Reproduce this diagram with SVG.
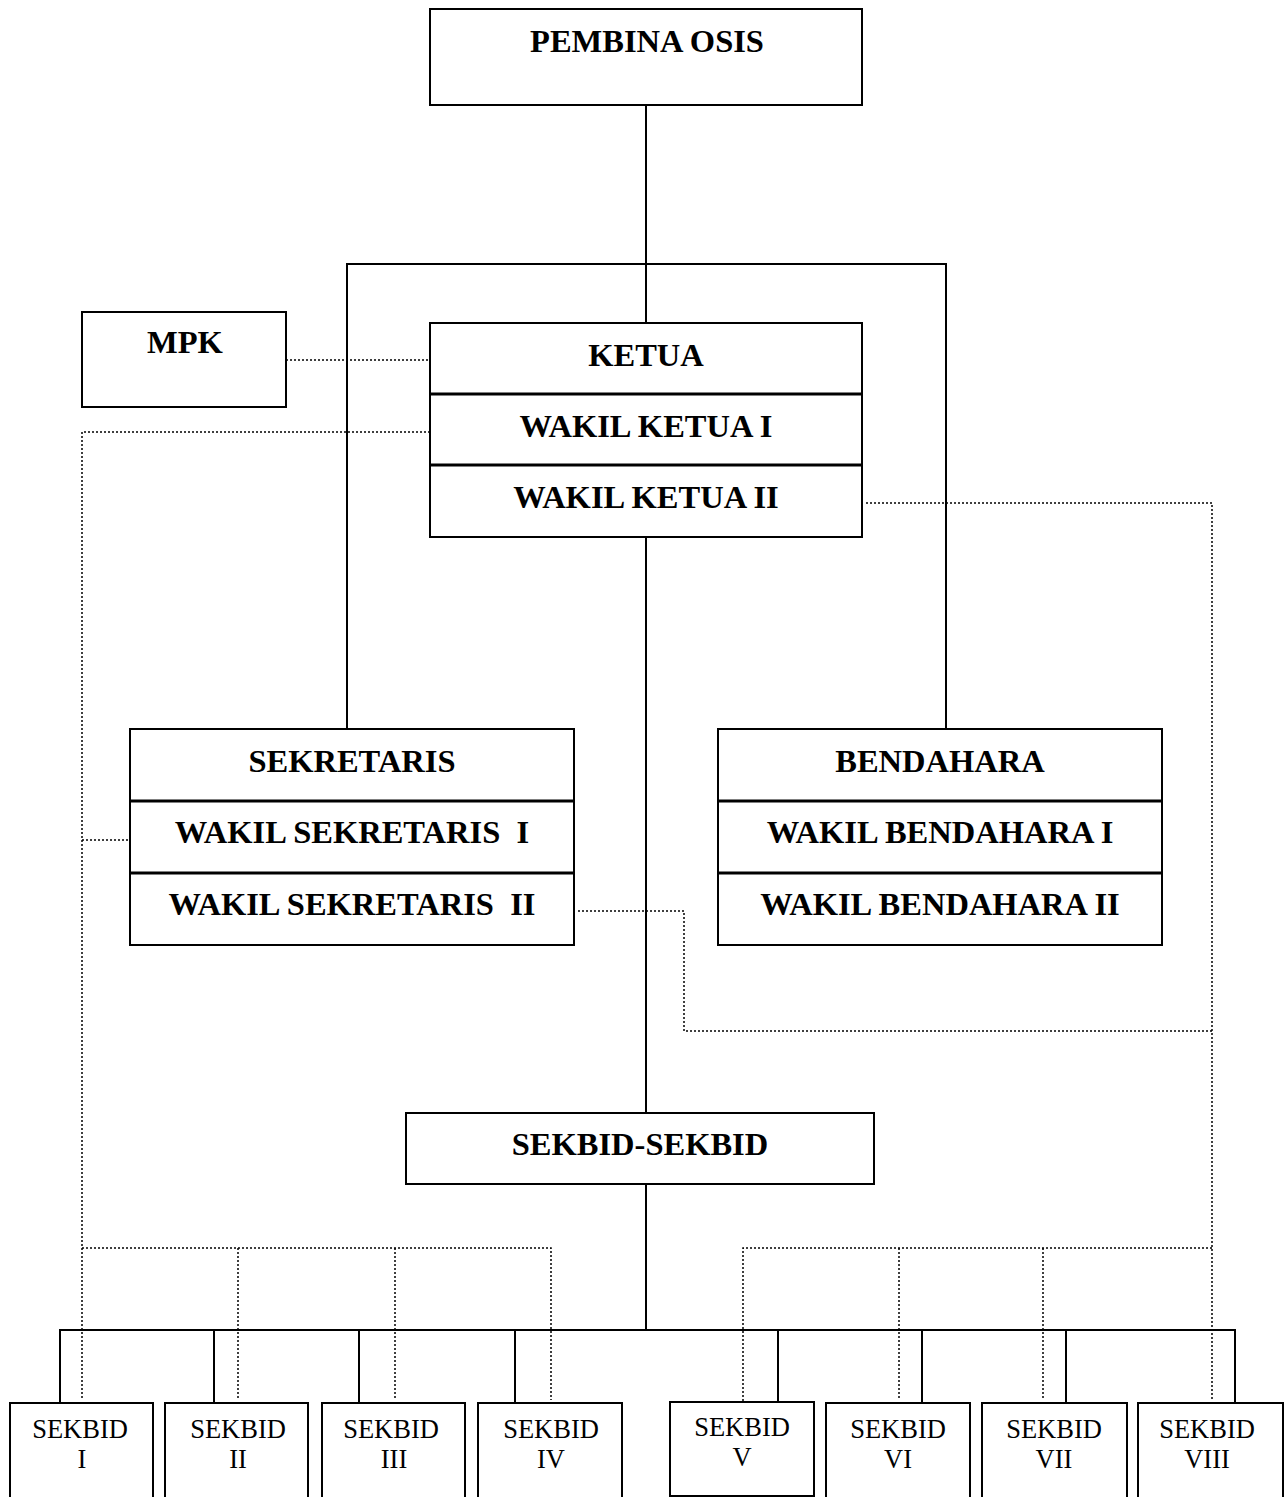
<svg xmlns="http://www.w3.org/2000/svg" width="1285" height="1497" viewBox="0 0 1285 1497">
<style>
.box{fill:#fff;stroke:#000;stroke-width:2}
.div{stroke:#000;stroke-width:3}
.b{font-family:"Liberation Serif",serif;font-weight:bold;font-size:32.5px;text-anchor:middle;white-space:pre}
.r{font-family:"Liberation Serif",serif;font-size:26.5px;text-anchor:middle}
.solid{fill:none;stroke:#000;stroke-width:2}
.dot{fill:none;stroke:#000;stroke-width:1.5;stroke-dasharray:2 2}
</style>
<rect width="1285" height="1497" fill="#fff"/>
<g id="connectors">
<path class="solid" d="M646 105V323M347 729V264H946V729M646 537V1113M646 1184V1330M60 1403V1330H1235V1403M214 1330V1403M359 1330V1403M515 1330V1403M778 1330V1402M922 1330V1403M1066 1330V1403"/>
<path class="dot" d="M278 360H442M430 432H82V1398M82 840H128M82 1248H551V1400M238 1248V1400M395 1248V1400M866 503H1212V1400M578 911H684V1031H1212M743 1413V1248H1212M899 1248V1400M1043 1248V1400"/>
</g>
<g id="pembina"><rect class="box" x="430" y="9" width="432" height="96"/><text class="b" x="647" y="52">PEMBINA OSIS</text></g>
<g id="mpk"><rect class="box" x="82" y="312" width="204" height="95"/><text class="b" x="185" y="353">MPK</text></g>
<g id="ketua"><rect class="box" x="430" y="323" width="432" height="214"/><line class="div" x1="430" y1="394" x2="862" y2="394"/><line class="div" x1="430" y1="465" x2="862" y2="465"/>
<text class="b" x="646" y="366">KETUA</text><text class="b" x="646" y="437">WAKIL KETUA I</text><text class="b" x="646" y="508">WAKIL KETUA II</text></g>
<g id="sekretaris"><rect class="box" x="130" y="729" width="444" height="216"/><line class="div" x1="130" y1="801" x2="574" y2="801"/><line class="div" x1="130" y1="873" x2="574" y2="873"/>
<text class="b" x="352" y="772">SEKRETARIS</text><text class="b" x="352" y="843">WAKIL SEKRETARIS  I</text><text class="b" x="352" y="915">WAKIL SEKRETARIS  II</text></g>
<g id="bendahara"><rect class="box" x="718" y="729" width="444" height="216"/><line class="div" x1="718" y1="801" x2="1162" y2="801"/><line class="div" x1="718" y1="873" x2="1162" y2="873"/>
<text class="b" x="940" y="772">BENDAHARA</text><text class="b" x="940" y="843">WAKIL BENDAHARA I</text><text class="b" x="940" y="915">WAKIL BENDAHARA II</text></g>
<g id="sekbid"><rect class="box" x="406" y="1113" width="468" height="71"/><text class="b" x="640" y="1155">SEKBID-SEKBID</text></g>
<g id="sekbid1"><rect class="box" x="10" y="1403" width="143" height="110"/><text class="r" x="80" y="1438">SEKBID</text><text class="r" x="82" y="1468">I</text></g>
<g id="sekbid2"><rect class="box" x="165" y="1403" width="143" height="110"/><text class="r" x="238" y="1438">SEKBID</text><text class="r" x="238" y="1468">II</text></g>
<g id="sekbid3"><rect class="box" x="322" y="1403" width="143" height="110"/><text class="r" x="391" y="1438">SEKBID</text><text class="r" x="394" y="1468">III</text></g>
<g id="sekbid4"><rect class="box" x="478" y="1403" width="144" height="110"/><text class="r" x="551" y="1438">SEKBID</text><text class="r" x="551" y="1468">IV</text></g>
<g id="sekbid5"><rect class="box" x="670" y="1402" width="144" height="94"/><text class="r" x="742" y="1436">SEKBID</text><text class="r" x="742" y="1466">V</text></g>
<g id="sekbid6"><rect class="box" x="826" y="1403" width="144" height="110"/><text class="r" x="898" y="1438">SEKBID</text><text class="r" x="898" y="1468">VI</text></g>
<g id="sekbid7"><rect class="box" x="982" y="1403" width="145" height="110"/><text class="r" x="1054" y="1438">SEKBID</text><text class="r" x="1054" y="1468">VII</text></g>
<g id="sekbid8"><rect class="box" x="1138" y="1403" width="145" height="110"/><text class="r" x="1207" y="1438">SEKBID</text><text class="r" x="1207" y="1468">VIII</text></g>
</svg>
